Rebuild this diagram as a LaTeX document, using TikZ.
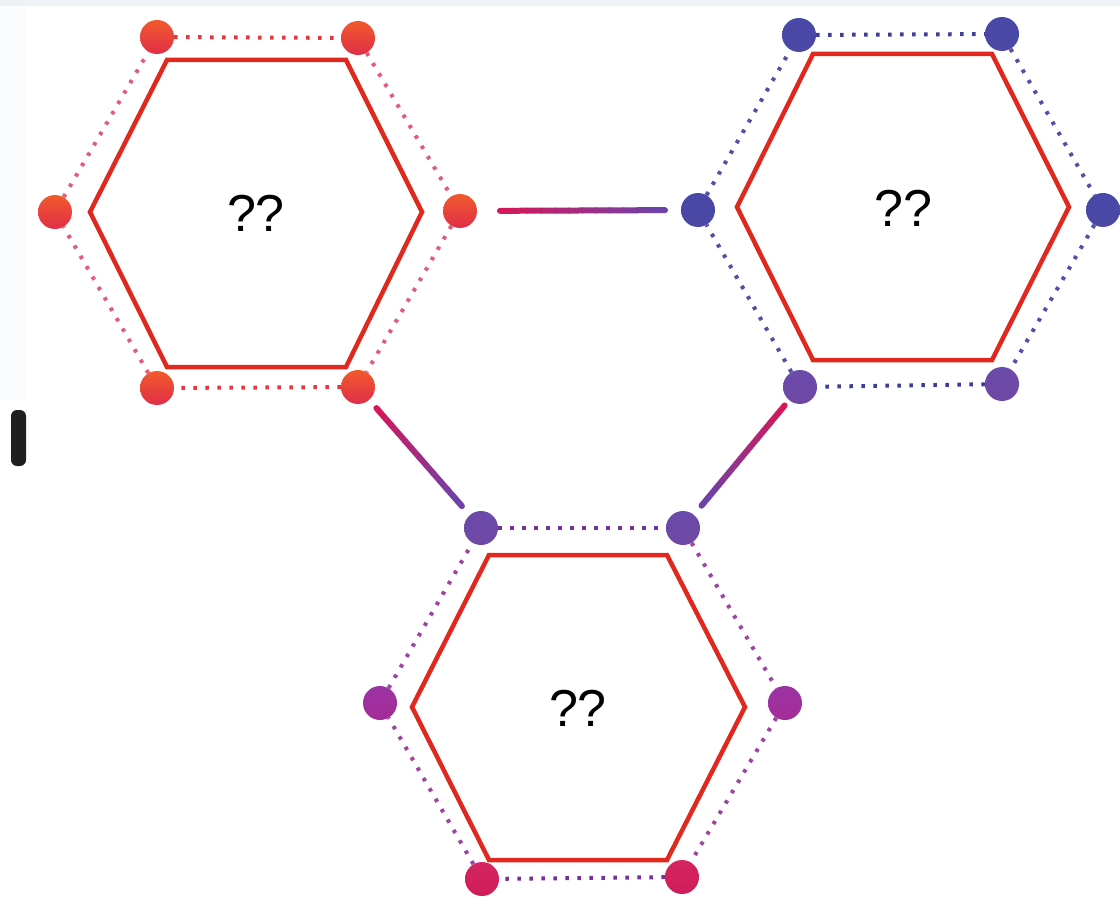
\documentclass[tikz,border=0pt]{standalone}
\usepackage{fontspec}
\setmainfont{Liberation Sans}
\usetikzlibrary{calc}
\definecolor{hexred}{HTML}{E0281E}
\definecolor{bandc}{HTML}{EEF2F6}
\definecolor{linkR}{HTML}{D4185A}
\definecolor{linkP}{HTML}{6E42A8}
\definecolor{rTop}{HTML}{F25A2C}
\definecolor{rBot}{HTML}{E02E48}
\definecolor{bTop}{HTML}{4848A8}
\definecolor{bBot}{HTML}{4C48A4}
\definecolor{pTop}{HTML}{6A4AAA}
\definecolor{pBot}{HTML}{7048A4}
\definecolor{mTop}{HTML}{9A34A4}
\definecolor{mBot}{HTML}{A42C96}
\definecolor{cTop}{HTML}{D42662}
\definecolor{cBot}{HTML}{D01C58}
\definecolor{dotRh}{HTML}{E6363E}
\definecolor{dotRs}{HTML}{E45A78}
\definecolor{dotBh}{HTML}{3E3E98}
\definecolor{dotBs}{HTML}{5050A8}
\definecolor{dotPh}{HTML}{7A2E98}
\definecolor{dotPs}{HTML}{9C44A0}
\tikzset{
  dotbase/.style={circle, inner sep=0pt, minimum size=34pt, shade},
  dotR/.style={dotbase, top color=rTop, bottom color=rBot},
  dotB/.style={dotbase, top color=bTop, bottom color=bBot},
  dotP/.style={dotbase, top color=pTop, bottom color=pBot},
  dotM/.style={dotbase, top color=mTop, bottom color=mBot},
  dotC/.style={dotbase, top color=cTop, bottom color=cBot},
  dotline/.style={line width=4pt, dash pattern=on 3.5pt off 8.5pt, color=#1},
  redhex/.style={draw=hexred, line width=4.5pt, line join=miter},
  qlabel/.style={font=\fontsize{52}{60}\selectfont, text=black, inner sep=0pt},
  linkseg/.style={line width=6pt, line cap=round}
}
\begin{document}
\begin{tikzpicture}[x=1pt,y=-1pt]
\useasboundingbox (0,0) rectangle (1120,904);
\fill[white] (0,0) rectangle (1120,904);
\fill[bandc] (0,0) rectangle (1120,6);
\fill[bandc!25] (0,6) rectangle (26,400);
\fill[black!88, rounded corners=6pt] (11,410) rectangle (26,466);

% red hexagons
\coordinate (h1a) at (167,60);  \coordinate (h1b) at (346,60);  \coordinate (h1c) at (422,212);
\coordinate (h1d) at (346,367); \coordinate (h1e) at (167,367); \coordinate (h1f) at (90,212);
\coordinate (h2a) at (813,54);  \coordinate (h2b) at (992,54);  \coordinate (h2c) at (1069,207);
\coordinate (h2d) at (992,360); \coordinate (h2e) at (813,360); \coordinate (h2f) at (737,207);
\coordinate (h3a) at (489,555); \coordinate (h3b) at (667,555); \coordinate (h3c) at (745,707);
\coordinate (h3d) at (667,860); \coordinate (h3e) at (489,860); \coordinate (h3f) at (412,707);
\draw[redhex] (h1a) -- (h1b) -- (h1c) -- (h1d) -- (h1e) -- (h1f) -- cycle;
\draw[redhex] (h2a) -- (h2b) -- (h2c) -- (h2d) -- (h2e) -- (h2f) -- cycle;
\draw[redhex] (h3a) -- (h3b) -- (h3c) -- (h3d) -- (h3e) -- (h3f) -- cycle;

% dots
\node[dotR] (a1) at (157,37) {};
\node[dotR] (a2) at (358,38) {};
\node[dotR] (a3) at (460,211) {};
\node[dotR] (a4) at (358,387) {};
\node[dotR] (a5) at (157,388) {};
\node[dotR] (a6) at (55,212) {};
\node[dotB] (b1) at (799,35) {};
\node[dotB] (b2) at (1002,34) {};
\node[dotB] (b3) at (1103,210) {};
\node[dotP] (b4) at (1002,384) {};
\node[dotP] (b5) at (800,387) {};
\node[dotB] (b6) at (698,210) {};
\node[dotP] (c1) at (481,528) {};
\node[dotP] (c2) at (683,528) {};
\node[dotM] (c3) at (785,703) {};
\node[dotC] (c4) at (682,877) {};
\node[dotC] (c5) at (482,879) {};
\node[dotM] (c6) at (380,703) {};

% dotted rings
\draw[dotline=dotRh] (a1) -- (a2);
\draw[dotline=dotRs] (a2) -- (a3);
\draw[dotline=dotRs] (a3) -- (a4);
\draw[dotline=dotRh] (a4) -- (a5);
\draw[dotline=dotRs] (a5) -- (a6);
\draw[dotline=dotRs] (a6) -- (a1);
\draw[dotline=dotBh] (b1) -- (b2);
\draw[dotline=dotBs] (b2) -- (b3);
\draw[dotline=dotBs] (b3) -- (b4);
\draw[dotline=dotBh] (b4) -- (b5);
\draw[dotline=dotBs] (b5) -- (b6);
\draw[dotline=dotBs] (b6) -- (b1);
\draw[dotline=dotPh] (c1) -- (c2);
\draw[dotline=dotPs] (c2) -- (c3);
\draw[dotline=dotPs] (c3) -- (c4);
\draw[dotline=dotPh] (c4) -- (c5);
\draw[dotline=dotPs] (c5) -- (c6);
\draw[dotline=dotPs] (c6) -- (c1);

% solid links with colour gradient
\coordinate (s1) at ($(a3)!40pt!(b6)$); \coordinate (e1) at ($(b6)!33pt!(a3)$);
\coordinate (s2) at ($(a4)!28pt!(c1)$); \coordinate (e2) at ($(c1)!29pt!(a4)$);
\coordinate (s3) at ($(b5)!24pt!(c2)$); \coordinate (e3) at ($(c2)!29pt!(b5)$);
\foreach \L in {1,2,3}{
  \foreach \i in {0,...,11}{
    \pgfmathsetmacro\fa{\i/12}
    \pgfmathsetmacro\fb{(\i+1)/12}
    \pgfmathsetmacro\mx{100-\i*100/11}
    \draw[linkseg, color=linkR!\mx!linkP] ($(s\L)!\fa!(e\L)$) -- ($(s\L)!\fb!(e\L)$);
  }
}

% labels
\node[qlabel] (t1) at (256,213) {??};
\node[qlabel] (t2) at (903,208) {??};
\node[qlabel] (t3) at (578,708) {??};
\end{tikzpicture}
\end{document}
